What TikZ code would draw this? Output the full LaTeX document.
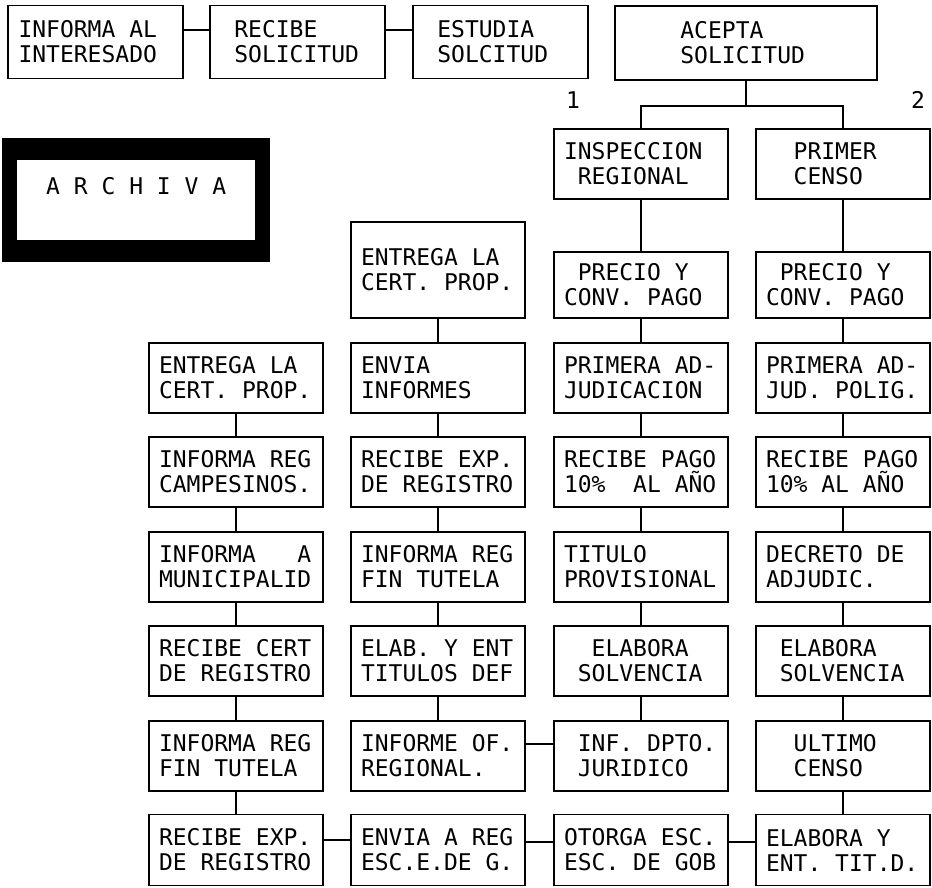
\documentclass[tikz,border=0pt]{standalone}
\usepackage{fontspec}
\setmainfont{DejaVu Sans Mono}
\newcommand\ind[1]{\hphantom{#1}}
\newcommand\chsp{\hphantom{X}}
\newcommand\dotfont{\fontsize{23}{25}\selectfont}
\begin{document}
\begin{tikzpicture}[x=1pt,y=-1pt,
  txt/.style={font=\dotfont, inner sep=0pt},
  bx/.style={txt, draw, line width=1.8pt, minimum width=174pt, minimum height=70pt, text width=154pt, align=left},
  conn/.style={line width=1.8pt},
  archbox/.style={fill=black, minimum width=268pt, minimum height=124pt, inner sep=0pt,
    path picture={\fill[white] ([xshift=15pt,yshift=-22pt]path picture bounding box.north west) rectangle ([xshift=-15pt,yshift=22pt]path picture bounding box.south east);}}]
\useasboundingbox (0,0) rectangle (932,887);
% top row
\node[bx, minimum width=175pt, minimum height=73pt] (infa) at (95.5,42) {INFORMA\chsp AL\\INTERESADO};
\node[bx, minimum width=175pt, minimum height=73pt] (rec) at (297.5,42) {\chsp RECIBE\\\chsp SOLICITUD};
\node[bx, minimum width=175pt, minimum height=73pt] (est) at (500.5,42) {\chsp ESTUDIA\\\chsp SOLCITUD};
\node[bx, minimum width=262pt, minimum height=74pt, text width=242pt] (acep) at (746,43) {\ind{XXXX}ACEPTA\\\ind{XXXX}SOLICITUD};
\node[txt] (n1) at (573,100) {1};
\node[txt] (n2) at (918,100) {2};
% archiva
\node[archbox] (arch) at (136,200) {};
\node[txt, anchor=west] (archt) at (46,186) {A\chsp R\chsp C\chsp H\chsp I\chsp V\chsp A};
% column C / D heads
\node[bx] (insp) at (641,164) {INSPECCION\\\chsp REGIONAL};
\node[bx] (prim) at (843,164) {\ind{XX}PRIMER\\\ind{XX}CENSO};
% row 0
\node[bx, minimum height=96pt] (b0) at (438,270) {ENTREGA\chsp LA\\CERT.\chsp PROP.};
\node[bx, minimum height=66pt] (c0) at (641,285) {\chsp PRECIO\chsp Y\\CONV.\chsp PAGO};
\node[bx, minimum height=66pt] (d0) at (843,285) {\chsp PRECIO\chsp Y\\CONV.\chsp PAGO};
% row 1
\node[bx] (a1) at (236,378) {ENTREGA\chsp LA\\CERT.\chsp PROP.};
\node[bx] (b1) at (438,378) {ENVIA\\INFORMES};
\node[bx] (c1) at (641,378) {PRIMERA\chsp AD-\\JUDICACION};
\node[bx] (d1) at (843,378) {PRIMERA\chsp AD-\\JUD.\chsp POLIG.};
% row 2
\node[bx] (a2) at (236,472) {INFORMA\chsp REG\\CAMPESINOS.};
\node[bx] (b2) at (438,472) {RECIBE\chsp EXP.\\DE\chsp REGISTRO};
\node[bx] (c2) at (641,472) {RECIBE\chsp PAGO\\10\%\chsp\chsp AL\chsp AÑO};
\node[bx] (d2) at (843,472) {RECIBE\chsp PAGO\\10\%\chsp AL\chsp AÑO};
% row 3
\node[bx] (a3) at (236,567) {INFORMA\chsp\chsp\chsp A\\MUNICIPALID};
\node[bx] (b3) at (438,567) {INFORMA\chsp REG\\FIN\chsp TUTELA};
\node[bx] (c3) at (641,567) {TITULO\\PROVISIONAL};
\node[bx] (d3) at (843,567) {DECRETO\chsp DE\\ADJUDIC.};
% row 4
\node[bx] (a4) at (236,661) {RECIBE\chsp CERT\\DE\chsp REGISTRO};
\node[bx] (b4) at (438,661) {ELAB.\chsp Y\chsp ENT\\TITULOS\chsp DEF};
\node[bx] (c4) at (641,661) {\ind{XX}ELABORA\\\chsp SOLVENCIA};
\node[bx] (d4) at (843,661) {\chsp ELABORA\\\chsp SOLVENCIA};
% row 5
\node[bx] (a5) at (236,756) {INFORMA\chsp REG\\FIN\chsp TUTELA};
\node[bx] (b5) at (438,756) {INFORME\chsp OF.\\REGIONAL.};
\node[bx] (c5) at (641,756) {\chsp INF.\chsp DPTO.\\\chsp JURIDICO};
\node[bx] (d5) at (843,756) {\ind{XX}ULTIMO\\\ind{XX}CENSO};
% row 6
\node[bx, minimum height=71pt] (a6) at (236,850) {RECIBE\chsp EXP.\\DE\chsp REGISTRO};
\node[bx, minimum height=71pt] (b6) at (438,850) {ENVIA\chsp A\chsp REG\\ESC.E.DE\chsp G.};
\node[bx, minimum height=71pt] (c6) at (641,850) {OTORGA\chsp ESC.\\ESC.\chsp DE\chsp GOB};
\node[bx, minimum height=71pt] (d6) at (843,850) {ELABORA\chsp Y\\ENT.\chsp TIT.D.};
% connectors top
\draw[conn] ([yshift=12pt]infa.east) -- ([yshift=12pt]rec.west);
\draw[conn] ([yshift=12pt]rec.east) -- ([yshift=12pt]est.west);
\coordinate (sp) at (746,106);
\draw[conn] (acep.south) -- (sp);
\draw[conn] (insp.north) |- (sp) -| (prim.north);
% columns
\draw[conn] (a1) -- (a2) -- (a3) -- (a4) -- (a5) -- (a6);
\draw[conn] (b0) -- (b1) -- (b2) -- (b3) -- (b4) -- (b5);
\draw[conn] (insp) -- (c0) -- (c1) -- (c2) -- (c3) -- (c4) -- (c5);
\draw[conn] (prim) -- (d0) -- (d1) -- (d2) -- (d3) -- (d4) -- (d5) -- (d6);
% horizontals
\draw[conn] ([yshift=12pt]b5.east) -- ([yshift=12pt]c5.west);
\draw[conn] ([yshift=10pt]a6.east) -- ([yshift=10pt]b6.west);
\draw[conn] ([yshift=8pt]b6.east) -- ([yshift=8pt]c6.west);
\draw[conn] ([yshift=8pt]c6.east) -- ([yshift=8pt]d6.west);
\end{tikzpicture}
\end{document}
